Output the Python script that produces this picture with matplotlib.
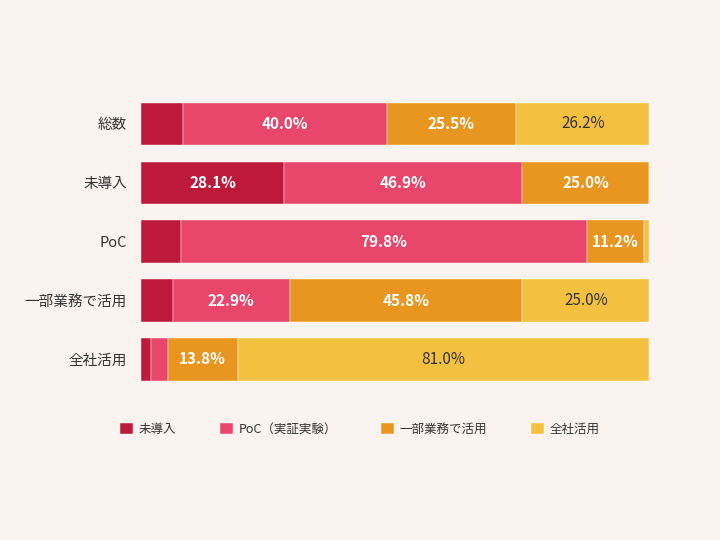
import matplotlib.pyplot as plt
import numpy as np

plt.rcParams['font.family'] = ['Noto Sans CJK JP', 'DejaVu Sans']

categories = ['総数', '未導入', 'PoC', '一部業務で活用', '全社活用']
series_names = ['未導入', 'PoC（実証実験）', '一部業務で活用', '全社活用']
not_adopted = [8.3, 28.1, 7.9, 6.3, 1.9]
poc = [40.0, 46.9, 79.8, 22.9, 3.3]
partial = [25.5, 25.0, 11.2, 45.8, 13.8]
company_wide = [26.2, 0.0, 1.1, 25.0, 81.0]

colors = ['#bd1a3b', '#e8466b', '#e8961f', '#f4c040']
text_colors = ['white', 'white', 'white', '#333333']
bg = '#faf3ef'

fig = plt.figure(figsize=(7.2, 5.4), dpi=100, facecolor=bg)
ax = fig.add_axes([0.196, 0.28, 0.706, 0.545], facecolor=bg)

y = np.arange(len(categories))
left = np.zeros(len(categories))
for name, vals, c, tc in zip(series_names, [not_adopted, poc, partial, company_wide], colors, text_colors):
    vals = np.array(vals)
    ax.barh(y, vals, left=left, height=0.72, color=c, label=name, edgecolor='white', linewidth=0.3)
    for yi, v, l in zip(y, vals, left):
        if v >= 10:
            ax.text(l + v / 2, yi, f'{v:.1f}%', ha='center', va='center', color=tc,
                    fontsize=11, fontweight='bold' if tc == 'white' else 'normal')
    left += vals

ax.set_xlim(0, 100)
ax.set_ylim(len(categories) - 0.5, -0.5)
ax.set_yticks(y)
ax.set_yticklabels(categories, fontsize=10.5, color='#333333')
ax.set_xticks([])
ax.tick_params(axis='y', length=0, pad=10)
for s in ax.spines.values():
    s.set_visible(False)

fig.legend(loc='center', bbox_to_anchor=(0.5, 0.205), ncol=4, frameon=False,
           fontsize=9, handlelength=1.0, handleheight=1.0, columnspacing=3.5,
           handletextpad=0.5, labelcolor='#333333')

fig.savefig('out.png', dpi=100, facecolor=bg)
